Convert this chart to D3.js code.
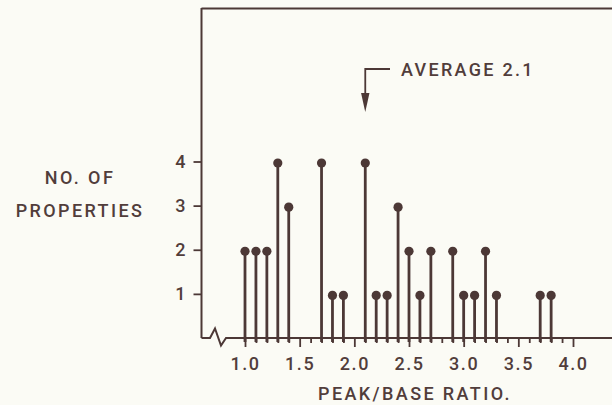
<!DOCTYPE html>
<html>
<head>
<meta charset="utf-8">
<script src="https://cdn.jsdelivr.net/npm/d3@7/dist/d3.min.js"></script>
<style>
  html, body { margin: 0; padding: 0; background: #fbfbf5; }
  svg { display: block; }
  text { font-family: Roboto, "Liberation Sans", Arial, sans-serif; font-weight: 500; fill: #513d3b; }
</style>
</head>
<body>
<svg id="chart" width="612" height="405"></svg>
<script>
// Peak/base ratio of each property group and how many properties share it
const ratios = [1.0, 1.1, 1.2, 1.3, 1.4, 1.7, 1.8, 1.9, 2.1, 2.2, 2.3, 2.4, 2.5, 2.6, 2.7, 2.9, 3.0, 3.1, 3.2, 3.3, 3.7, 3.8];
const counts = [2, 2, 2, 4, 3, 4, 1, 1, 4, 1, 1, 3, 2, 1, 2, 2, 1, 1, 2, 1, 1, 1];
const xTickLabels = ["1.0", "1.5", "2.0", "2.5", "3.0", "3.5", "4.0"];
const yTickValues = [1, 2, 3, 4];
const averageRatio = 2.1;

const ink = "#4c3836";
const svg = d3.select("#chart");

const x = d3.scaleLinear().domain([1.0, 4.0]).range([245, 573]);
const y = d3.scaleLinear().domain([0, 4]).range([338, 161.5]);

// Frame: left axis line and top rule
svg.append("line").attr("x1", 201.5).attr("x2", 201.5).attr("y1", 8).attr("y2", 338)
  .attr("stroke", ink).attr("stroke-width", 2);
svg.append("line").attr("x1", 201.5).attr("x2", 612).attr("y1", 8.5).attr("y2", 8.5)
  .attr("stroke", ink).attr("stroke-width", 1.8);

// Baseline with a break near the origin
svg.append("path")
  .attr("d", `M201.5,338 L210,338 L215,328.5 L221,345.5 L226,338 L612,338`)
  .attr("fill", "none").attr("stroke", ink).attr("stroke-width", 2)
  .attr("stroke-linejoin", "miter");

// Minor ticks every 0.1, longer ticks at each 0.5
const tickVals = d3.range(10, 41).map(d => d / 10);
const xAxis = d3.axisBottom(x).tickValues(tickVals).tickSize(5).tickFormat("");
const gx = svg.append("g").attr("transform", `translate(0,${y(0)})`).call(xAxis);
gx.select(".domain").remove();
gx.selectAll(".tick line")
  .attr("stroke", ink).attr("stroke-width", 1.8)
  .attr("y2", d => (Math.abs(d * 2 - Math.round(d * 2)) < 1e-6 ? 9 : 5));

// X tick labels
const gxl = svg.append("g").attr("transform", `translate(0,${y(0)})`)
  .call(d3.axisBottom(x).tickValues(xTickLabels.map(Number)).tickSize(0).tickPadding(19)
    .tickFormat((d, i) => xTickLabels[i]));
gxl.select(".domain").remove();
gxl.selectAll("text").attr("font-size", 18).style("letter-spacing", "1.6px")
  .attr("font-family", null).attr("fill", null);

// Y axis ticks and labels
const gy = svg.append("g").attr("transform", "translate(201.5,0)")
  .call(d3.axisLeft(y).tickValues(yTickValues).tickSize(8).tickPadding(8).tickFormat(d3.format("d")));
gy.select(".domain").remove();
gy.selectAll(".tick line").attr("stroke", ink).attr("stroke-width", 1.8);
gy.selectAll("text").attr("font-size", 18).attr("font-family", null).attr("fill", null);

// Stems with round heads
const rows = ratios.map((r, i) => ({ r, n: counts[i] }));
svg.append("g").selectAll("line").data(rows).join("line")
  .attr("x1", d => x(d.r)).attr("x2", d => x(d.r))
  .attr("y1", y(0) + 4).attr("y2", d => y(d.n))
  .attr("stroke", ink).attr("stroke-width", 2.8);
svg.append("g").selectAll("circle").data(rows).join("circle")
  .attr("cx", d => x(d.r)).attr("cy", d => y(d.n) + 1.5).attr("r", 4.6)
  .attr("fill", ink);

// Average marker: elbow line with downward arrow
const ax = x(averageRatio);
svg.append("path")
  .attr("d", `M390,69 L${ax},69 L${ax},97`)
  .attr("fill", "none").attr("stroke", ink).attr("stroke-width", 1.8);
svg.append("path")
  .attr("d", `M${ax - 4.2},93 L${ax + 4.2},93 L${ax},112 Z`)
  .attr("fill", ink);
svg.append("text").attr("x", 401).attr("y", 76)
  .attr("font-size", 18).style("letter-spacing", "2.3px")
  .text("AVERAGE " + averageRatio.toFixed(1));

// Axis titles
svg.append("text").attr("x", 415).attr("y", 400).attr("text-anchor", "middle")
  .attr("font-size", 18).style("letter-spacing", "2.4px")
  .text("PEAK/BASE RATIO.");
const yTitle = svg.append("text").attr("text-anchor", "middle").attr("font-size", 18)
  .style("letter-spacing", "2.4px");
yTitle.append("tspan").attr("x", 80).attr("y", 184).text("NO. OF");
yTitle.append("tspan").attr("x", 80).attr("y", 217).text("PROPERTIES");
</script>
</body>
</html>
